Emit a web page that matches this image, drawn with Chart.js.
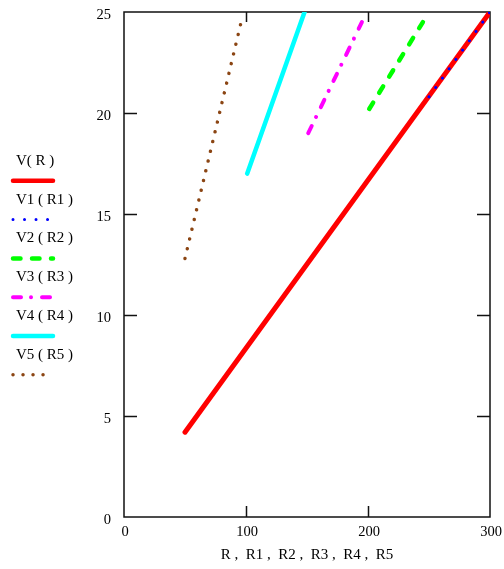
<!DOCTYPE html>
<html><head><meta charset="utf-8">
<script src="https://cdn.jsdelivr.net/npm/chart.js@4/dist/chart.umd.min.js"></script>
<style>html,body{margin:0;padding:0;background:#fff;}#wrap{position:relative;width:504px;height:569px;}</style>
</head><body><div id="wrap"><canvas id="c" width="504" height="569"></canvas></div>
<script>
// ---- data ----
const seriesLabels = ["V( R )", "V1 ( R1 )", "V2 ( R2 )", "V3 ( R3 )", "V4 ( R4 )", "V5 ( R5 )"];
const R  = [50, 300];
const V  = [4.2, 25];
const R1 = [250, 300];
const V1 = [20.8, 25];
const R2 = [201, 245];
const V2 = [20.2, 24.5];
const R3 = [151, 195];
const V3 = [19.0, 24.5];
const R4 = [101, 148];
const V4 = [17.0, 25];
const R5 = [50, 96];
const V5 = [12.8, 24.5];
const xTicks = [0, 100, 200, 300];
const yTicks = [0, 5, 10, 15, 20, 25];
const xTitle = "R ,  R1 ,  R2 ,  R3 ,  R4 ,  R5";

const FONT = "'Liberation Serif', 'DejaVu Serif', serif";
const pts = (xs, ys) => xs.map((x, i) => ({x: x, y: ys[i]}));

const styles = [
  {borderColor: '#ff0000', borderWidth: 5, borderDash: [], borderCapStyle: 'round', order: 5},
  {borderColor: '#0000ff', borderWidth: 3, borderDash: [0.01, 11.5], borderCapStyle: 'round', order: 0},
  {borderColor: '#00ff00', borderWidth: 4.5, borderDash: [7.5, 11.5], borderCapStyle: 'round', order: 1},
  {borderColor: '#ff00ff', borderWidth: 4, borderDash: [8, 10, 0.01, 11], borderCapStyle: 'round', order: 1},
  {borderColor: '#00ffff', borderWidth: 4.5, borderDash: [], borderCapStyle: 'round', order: 1},
  {borderColor: '#8b4513', borderWidth: 3.5, borderDash: [0.01, 10], borderCapStyle: 'round', order: 1}
];
const series = [pts(R, V), pts(R1, V1), pts(R2, V2), pts(R3, V3), pts(R4, V4), pts(R5, V5)];

const datasets = series.map((d, i) => Object.assign({
  label: seriesLabels[i],
  data: d,
  showLine: true,
  pointRadius: 0,
  pointHoverRadius: 0,
  fill: false,
  tension: 0
}, styles[i]));

const framePlugin = {
  id: 'frame',
  beforeDatasetsDraw(chart) {
    const {ctx, chartArea: a, scales} = chart;
    ctx.save();
    ctx.strokeStyle = '#111';
    ctx.lineWidth = 1.5;
    ctx.strokeRect(a.left, a.top, a.right - a.left, a.bottom - a.top);
    ctx.beginPath();
    xTicks.forEach(v => {
      if (v === xTicks[0] || v === xTicks[xTicks.length - 1]) return;
      const px = Math.round(scales.x.getPixelForValue(v)) + 0.5;
      ctx.moveTo(px, a.bottom); ctx.lineTo(px, a.bottom - 11);
      ctx.moveTo(px, a.top); ctx.lineTo(px, a.top + 10);
    });
    yTicks.forEach(v => {
      if (v === yTicks[0] || v === yTicks[yTicks.length - 1]) return;
      const py = Math.round(scales.y.getPixelForValue(v)) + 0.5;
      ctx.moveTo(a.left, py); ctx.lineTo(a.left + 13, py);
      ctx.moveTo(a.right, py); ctx.lineTo(a.right - 13, py);
    });
    ctx.stroke();
    ctx.restore();
  },
  afterDraw(chart) {
    const ctx = chart.ctx;
    ctx.save();
    chart.data.datasets.forEach((ds, i) => {
      const ly = 180.8 + 38.8 * i;
      ctx.fillStyle = '#000';
      ctx.font = '15px ' + FONT;
      ctx.textBaseline = 'middle';
      ctx.textAlign = 'left';
      ctx.fillText(ds.label, 16, ly - 20);
      ctx.strokeStyle = ds.borderColor;
      ctx.lineWidth = Math.min(ds.borderWidth, 4.5);
      ctx.lineCap = ds.borderCapStyle;
      ctx.setLineDash(ds.borderDash);
      ctx.beginPath();
      ctx.moveTo(13, ly);
      ctx.lineTo(53, ly);
      ctx.stroke();
      ctx.setLineDash([]);
    });
    ctx.restore();
  }
};

new Chart(document.getElementById('c'), {
  type: 'scatter',
  data: {datasets: datasets},
  options: {
    responsive: false,
    animation: false,
    devicePixelRatio: 1,
    layout: {padding: {top: 12, right: 14, bottom: 0, left: 0}},
    plugins: {legend: {display: false}, tooltip: {enabled: false}},
    scales: {
      x: {
        type: 'linear', min: 0, max: 300,
        afterBuildTicks(s) { s.ticks = xTicks.map(v => ({value: v})); },
        afterFit(s) { s.height = 52; s.paddingLeft = 0; s.paddingRight = 0; },
        grid: {display: false, drawTicks: false},
        border: {display: false},
        ticks: {color: '#000', font: {family: FONT, size: 14.5}, padding: 6.5, labelOffset: 1, maxRotation: 0, autoSkip: false},
        title: {display: true, text: xTitle, color: '#000', font: {family: FONT, size: 15}, padding: {top: 0, bottom: 4.6}}
      },
      y: {
        type: 'linear', min: 0, max: 25,
        afterBuildTicks(s) { s.ticks = yTicks.map(v => ({value: v})); },
        afterFit(s) { s.width = 124; s.paddingTop = 0; s.paddingBottom = 0; },
        grid: {display: false, drawTicks: false},
        border: {display: false},
        ticks: {color: '#000', font: {family: FONT, size: 14.5}, padding: 13, labelOffset: 3, autoSkip: false}
      }
    }
  },
  plugins: [framePlugin]
});
</script>
</body></html>
